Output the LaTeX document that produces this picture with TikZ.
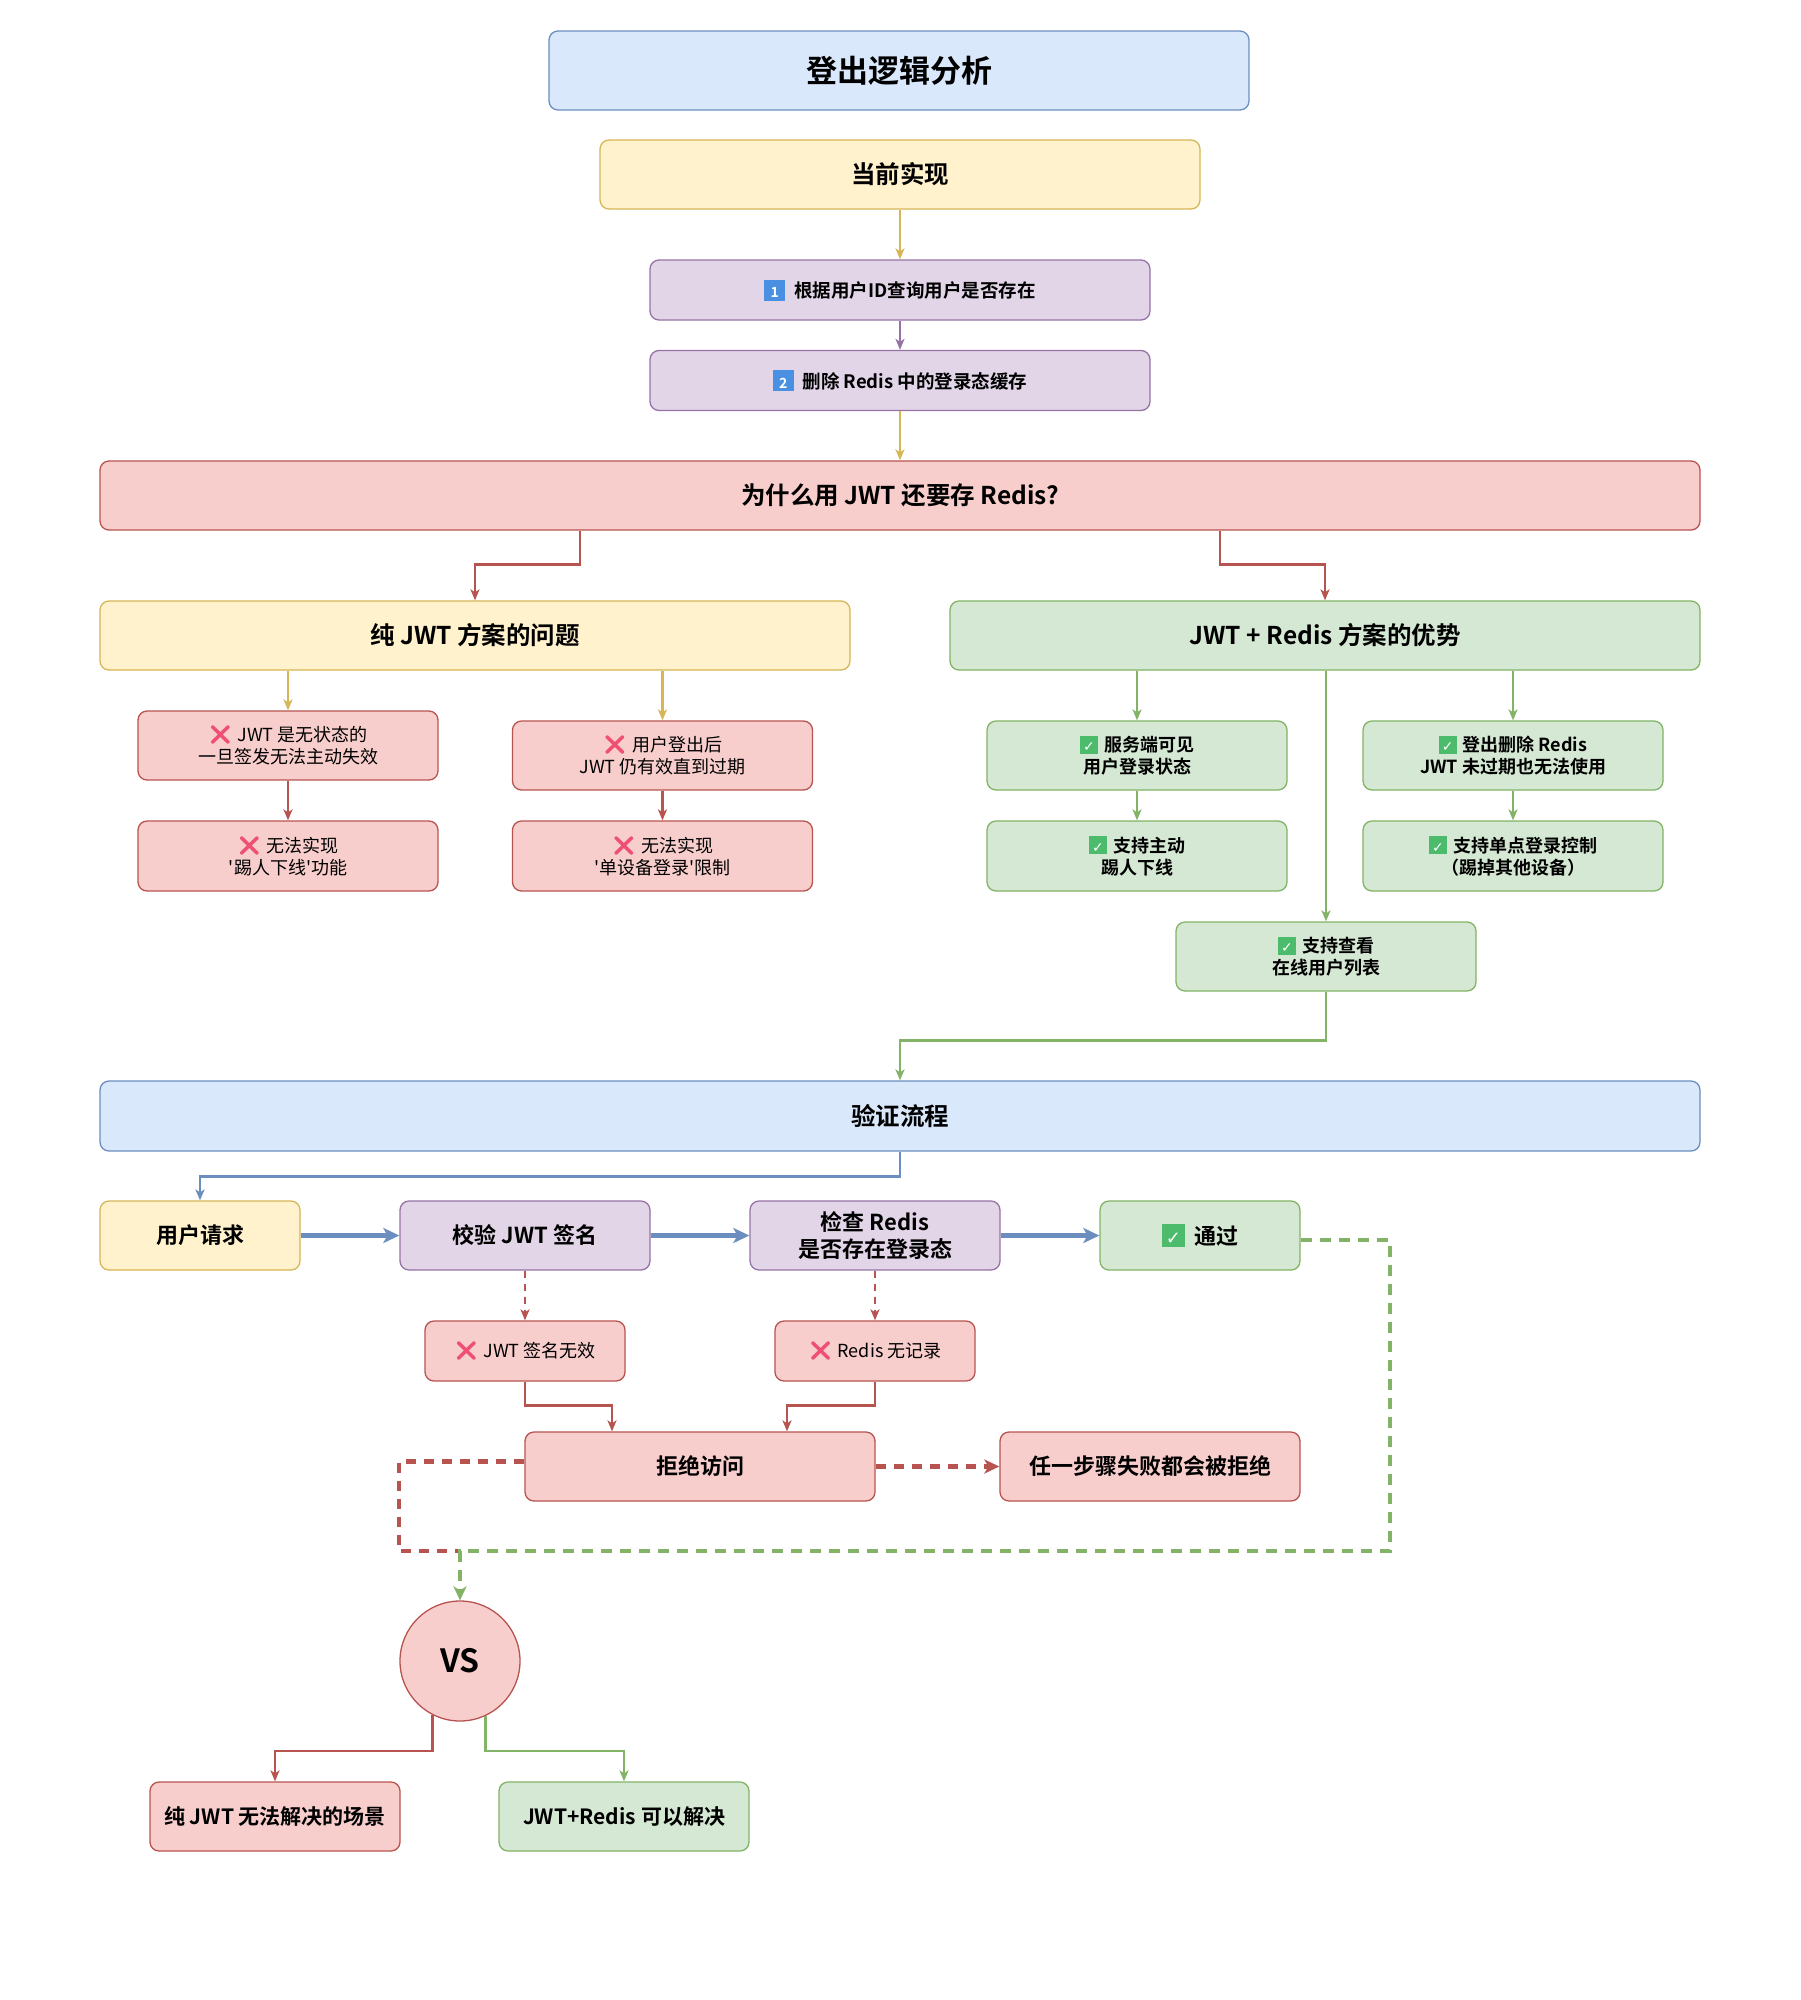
\documentclass[tikz,border=0pt]{standalone}
\usepackage{fontspec}
\setmainfont{Noto Sans CJK SC}[BoldFont={Noto Sans CJK SC Bold}]
\newfontfamily\dejavu{DejaVu Sans}
\newfontfamily\emoji{Noto Emoji}
\usetikzlibrary{arrows.meta}
\definecolor{bfill}{HTML}{DAE8FC}\definecolor{bdraw}{HTML}{6C8EBF}
\definecolor{yfill}{HTML}{FFF2CC}\definecolor{ydraw}{HTML}{D6B656}
\definecolor{pfill}{HTML}{E1D5E7}\definecolor{pdraw}{HTML}{9673A6}
\definecolor{rfill}{HTML}{F8CECC}\definecolor{rdraw}{HTML}{B85450}
\definecolor{gfill}{HTML}{D5E8D4}\definecolor{gdraw}{HTML}{82B366}
\definecolor{chkgreen}{HTML}{4CBB6C}
\definecolor{keyblue}{HTML}{4A90E2}
\definecolor{xred}{HTML}{EE4F72}
\newcommand\chk{{\setlength{\fboxsep}{0pt}\colorbox{chkgreen}{\makebox[18pt][c]{\rule[-2pt]{0pt}{18pt}\color{white}\dejavu\fontsize{14}{14}\selectfont ✓}}}\hspace{6pt}}
\newcommand\bigchk{{\setlength{\fboxsep}{0pt}\colorbox{chkgreen}{\makebox[23pt][c]{\rule[-3pt]{0pt}{23pt}\color{white}\dejavu\fontsize{18}{18}\selectfont ✓}}}\hspace{9pt}}
\newcommand\crs{{\emoji\fontsize{19}{19}\selectfont\color{xred}❌}\hspace{5pt}}
\newcommand\keycap[1]{{\setlength{\fboxsep}{0pt}\colorbox{keyblue}{\makebox[21pt][c]{\rule[-3pt]{0pt}{21pt}\color{white}\fontsize{14}{14}\selectfont\bfseries #1}}}\hspace{9pt}}
\newcommand\sq{\textquotesingle}
\begin{document}
\begin{tikzpicture}[x=1pt,y=-1pt,
  box/.style={draw, rounded corners=9pt, line width=1.3pt, align=center, inner sep=0pt},
  bl/.style={box, fill=bfill, draw=bdraw},
  yl/.style={box, fill=yfill, draw=ydraw},
  pu/.style={box, fill=pfill, draw=pdraw},
  rd/.style={box, fill=rfill, draw=rdraw},
  gr/.style={box, fill=gfill, draw=gdraw},
  sz/.style 2 args={minimum width=#1pt, minimum height=#2pt},
  ftitle/.style={font=\fontsize{31}{37}\selectfont\bfseries},
  fhead/.style={font=\fontsize{24.5}{30}\selectfont\bfseries},
  frow/.style={font=\fontsize{22}{27}\selectfont\bfseries},
  fbot/.style={font=\fontsize{21}{26}\selectfont\bfseries},
  fstep/.style={font=\fontsize{18.5}{22}\selectfont\bfseries},
  fsm/.style={font=\fontsize{18}{22}\selectfont},
  fsmb/.style={font=\fontsize{18}{22}\selectfont\bfseries},
  tip/.style={-{Stealth[length=11pt,width=9pt,inset=3pt]}},
  conn/.style={line width=2.5pt, tip},
  yarr/.style={conn, draw=ydraw},
  parr/.style={conn, draw=pdraw},
  rarr/.style={conn, draw=rdraw},
  garr/.style={conn, draw=gdraw},
  barr/.style={conn, draw=bdraw},
  bthick/.style={line width=4.2pt, draw=bdraw, -{Stealth[length=16pt,width=15pt,inset=4pt]}},
  rdash/.style={line width=2.3pt, draw=rdraw, dash pattern=on 7pt off 6pt, tip},
  rdasht/.style={line width=4.2pt, draw=rdraw, dash pattern=on 10pt off 8pt},
  gdasht/.style={line width=4pt, draw=gdraw, dash pattern=on 11pt off 8pt},
]
\useasboundingbox (0,0) rectangle (1800,2000);
\fill[white] (0,0) rectangle (1800,2000);

% nodes
\node[bl, sz={700}{79}, ftitle] (title) at (899,70.5) {登出逻辑分析};
\node[yl, sz={600}{69}, fhead] (cur) at (900,174.5) {当前实现};
\node[pu, sz={500}{60}, fstep] (s1) at (900,290) {\keycap{1}根据用户ID查询用户是否存在};
\node[pu, sz={500}{60}, fstep] (s2) at (900,380.5) {\keycap{2}删除 Redis 中的登录态缓存};
\node[rd, sz={1600}{69}, fhead] (why) at (900,495.5) {为什么用 JWT 还要存 Redis?};
\node[yl, sz={750}{69}, fhead] (jwtp) at (475,635.5) {纯 JWT 方案的问题};
\node[gr, sz={750}{69}, fhead] (jr) at (1325,635.5) {JWT + Redis 方案的优势};

\node[rd, sz={300}{69}, fsm] (A1) at (288,745.5) {\crs JWT 是无状态的\\一旦签发无法主动失效};
\node[rd, sz={300}{70}, fsm] (A2) at (288,856) {\crs 无法实现\\\sq 踢人下线\sq 功能};
\node[rd, sz={300}{69}, fsm] (B1) at (662.5,755.5) {\crs 用户登出后\\JWT 仍有效直到过期};
\node[rd, sz={300}{70}, fsm] (B2) at (662.5,856) {\crs 无法实现\\\sq 单设备登录\sq 限制};

\node[gr, sz={300}{69}, fsmb] (C1) at (1137,755.5) {\chk 服务端可见\\用户登录状态};
\node[gr, sz={300}{70}, fsmb] (C2) at (1137,856) {\chk 支持主动\\踢人下线};
\node[gr, sz={300}{69}, fsmb] (D1) at (1513,755.5) {\chk 登出删除 Redis\\JWT 未过期也无法使用};
\node[gr, sz={300}{70}, fsmb] (D2) at (1513,856) {\chk 支持单点登录控制\\（踢掉其他设备）};
\node[gr, sz={300}{69}, fsmb] (E) at (1326,956.5) {\chk 支持查看\\在线用户列表};

\node[bl, sz={1600}{70}, fhead] (verify) at (900,1116) {验证流程};
\node[yl, sz={200}{69}, frow] (user) at (200,1235.5) {用户请求};
\node[pu, sz={250}{69}, frow] (jwtcheck) at (525,1235.5) {校验 JWT 签名};
\node[pu, sz={250}{69}, frow] (rcheck) at (875,1235.5) {检查 Redis\\是否存在登录态};
\node[gr, sz={200}{69}, frow] (pass) at (1200,1235.5) {\bigchk 通过};
\node[rd, sz={200}{60}, fsm] (F1) at (525,1351) {\crs JWT 签名无效};
\node[rd, sz={200}{60}, fsm] (F2) at (875,1351) {\crs Redis 无记录};
\node[rd, sz={350}{69}, frow] (reject) at (700,1466.5) {拒绝访问};
\node[rd, sz={300}{69}, frow] (anyfail) at (1150,1466.5) {任一步骤失败都会被拒绝};
\node[circle, draw=rdraw, fill=rfill, line width=1.3pt, minimum size=120pt, inner sep=0pt, font=\fontsize{32}{36}\selectfont\bfseries] (vs) at (460,1661) {VS};
\node[rd, sz={250}{69}, fbot] (G1) at (275,1816.5) {纯 JWT 无法解决的场景};
\node[gr, sz={250}{69}, fbot] (G2) at (624,1816.5) {JWT+Redis 可以解决};

% connectors
\draw[yarr] (cur.south) -- (s1.north);
\draw[parr] (s1.south) -- (s2.north);
\draw[yarr] (s2.south) -- (why.north);
\draw[rarr] ([xshift=-320pt]why.south) -- ++(0,34) -| (jwtp.north);
\draw[rarr] ([xshift=320pt]why.south) -- ++(0,34) -| (jr.north);
\draw[yarr] (jwtp.south -| A1.north) -- (A1.north);
\draw[yarr] (jwtp.south -| B1.north) -- (B1.north);
\draw[rarr] (A1.south) -- (A2.north);
\draw[rarr] (B1.south) -- (B2.north);
\draw[garr] (jr.south -| C1.north) -- (C1.north);
\draw[garr] (jr.south -| D1.north) -- (D1.north);
\draw[garr] (jr.south -| E.north) -- (E.north);
\draw[garr] (C1.south) -- (C2.north);
\draw[garr] (D1.south) -- (D2.north);
\draw[garr] (E.south) -- ++(0,49) -| (verify.north);
\draw[barr] (verify.south) -- ++(0,25) -| (user.north);
\draw[bthick] (user.east) -- (jwtcheck.west);
\draw[bthick] (jwtcheck.east) -- (rcheck.west);
\draw[bthick] (rcheck.east) -- (pass.west);
\draw[rdash] (jwtcheck.south) -- (F1.north);
\draw[rdash] (rcheck.south) -- (F2.north);
\draw[rarr] (F1.south) -- ++(0,24) -| ([xshift=-88pt]reject.north);
\draw[rarr] (F2.south) -- ++(0,24) -| ([xshift=87pt]reject.north);
\draw[rdasht, -{Stealth[length=15pt,width=14pt,inset=4pt]}] (reject.east) -- (anyfail.west);
\coordinate (join) at (460,1551);
\coordinate (lvl) at (0,1751);
\draw[rdasht] ([yshift=5pt]reject.west) -- ++(-125,0) |- (join);
\draw[gdasht, -{Stealth[length=14pt,width=13pt,inset=4pt]}] ([yshift=-4pt]pass.east) -- ++(89,0) |- (join) -- (vs.north);
\draw[rarr] (vs.243) -- (vs.243 |- lvl) -| (G1.north);
\draw[garr] (vs.295) -- (vs.295 |- lvl) -| (G2.north);
\end{tikzpicture}
\end{document}
